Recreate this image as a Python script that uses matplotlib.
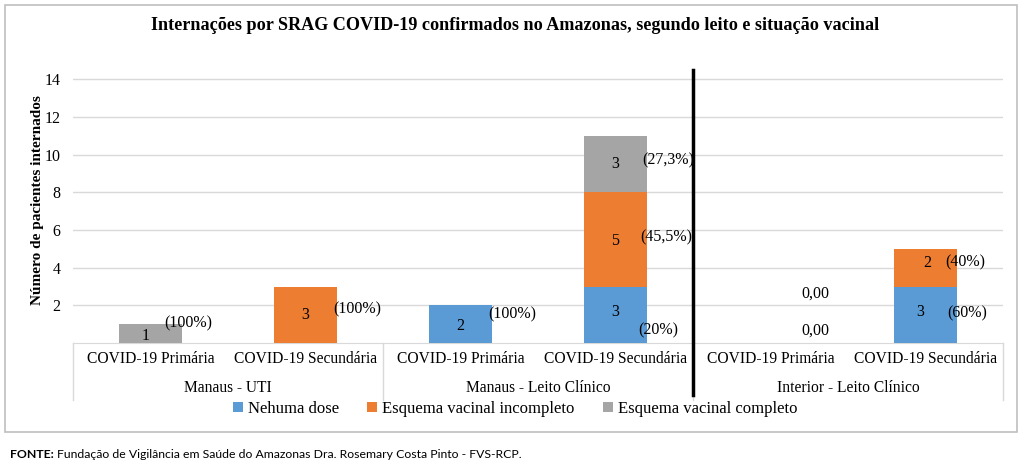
import matplotlib
matplotlib.use("Agg")
import matplotlib.pyplot as plt
from matplotlib.patches import Rectangle
from matplotlib.transforms import offset_copy
import numpy as np

plt.rcParams['font.family'] = ['Liberation Serif', 'DejaVu Serif']

title = "Internações por SRAG COVID-19 confirmados no Amazonas, segundo leito e situação vacinal"
ylabel = "Número de pacientes internados"
categories = ["COVID-19 Primária", "COVID-19 Secundária"] * 3
groups = ["Manaus - UTI", "Manaus - Leito Clínico", "Interior - Leito Clínico"]
series_names = ["Nehuma dose", "Esquema vacinal incompleto", "Esquema vacinal completo"]
nenhuma = [0, 0, 2, 3, 0, 3]
incompleto = [0, 3, 0, 5, 0, 2]
completo = [1, 0, 0, 3, 0, 0]
pct_nenhuma = ["", "", "(100%)", "(20%)", "", "(60%)"]
pct_incompleto = ["", "(100%)", "", "(45,5%)", "", "(40%)"]
pct_completo = ["(100%)", "", "", "(27,3%)", "", ""]
zero_labels = ["0,00", "0,00"]
yticks = [2, 4, 6, 8, 10, 12, 14]
source = "Fundação de Vigilância em Saúde do Amazonas Dra. Rosemary Costa Pinto - FVS-RCP."

# layout: pixel offsets (dx, dy) of percentage labels relative to bar right edge / segment middle
pct_offsets = [
    [None, None, (-4, 10), (-9, -16), None, (-10, 1)],
    [None, (-4, 5), None, (-7, 2), None, (-12, 5)],
    [(-18, 10), None, None, (-5, 4), None, None],
]
# layout: pixel offsets for value labels (dx, dy)
val_offsets = [
    [None, None, (0, -2), (0, 3), None, (-5, 3)],
    [None, (0, 0), None, (0, -2), None, (2, 5)],
    [(-5, -2), None, None, (0, 0), None, None],
]

colors = ["#5B9BD5", "#ED7D31", "#A5A5A5"]

fig = plt.figure(figsize=(10.24, 4.67), dpi=100)
fig.patches.append(Rectangle((5/1024, 1-432/467), 1012/1024, 427/467, transform=fig.transFigure,
                             fill=False, edgecolor="#BFBFBF", linewidth=1.2))
ax = fig.add_axes([73/1024, 1-343/467, 930/1024, 273/467])
x = np.arange(len(categories))
w = 0.41
data = [nenhuma, incompleto, completo]
pcts = [pct_nenhuma, pct_incompleto, pct_completo]
bottom = np.zeros(len(x))
px = 72 / 100  # points per pixel
for s, (vals, col, name) in enumerate(zip(data, colors, series_names)):
    vals = np.array(vals, dtype=float)
    ax.bar(x, vals, w, bottom=bottom, color=col, label=name, zorder=3)
    for i, v in enumerate(vals):
        if v > 0:
            mid = bottom[i] + v / 2
            dx, dy = val_offsets[s][i] or (0, 0)
            tr = offset_copy(ax.transData, fig=fig, x=dx*px, y=dy*px, units="points")
            ax.text(x[i], mid, f"{int(v)}", ha="center", va="center", fontsize=11.5,
                    zorder=4, transform=tr)
            if pcts[s][i]:
                dx, dy = pct_offsets[s][i]
                tr = offset_copy(ax.transData, fig=fig, x=dx*px, y=dy*px, units="points")
                ax.text(x[i] + w/2, mid, pcts[s][i], ha="left", va="center",
                        fontsize=11.5, zorder=4, transform=tr)
    bottom += vals

ax.text(4.2, 2.6, zero_labels[0], ha="left", va="center", fontsize=11.5)
ax.text(4.2, 0.68, zero_labels[1], ha="left", va="center", fontsize=11.5)

ax.set_xlim(-0.5, len(categories) - 0.5)
ax.set_ylim(0, 14.5)
ax.set_yticks(yticks)
ax.set_yticklabels([str(t) for t in yticks], fontsize=11.5)
ax.tick_params(axis="y", length=0, pad=9)
ax.set_xticks([])
ax.grid(axis="y", color="#D9D9D9", linewidth=1, zorder=0)
for sp in ["top", "right", "left"]:
    ax.spines[sp].set_visible(False)
ax.spines["bottom"].set_color("#D9D9D9")
ax.set_ylabel(ylabel, fontsize=11, fontweight="bold")
ax.yaxis.set_label_coords(-29/930, (343-200)/273)

trans = ax.get_xaxis_transform()
depth = -57 / 273
for xb in [-0.5, 1.5, 3.5, 5.5]:
    ax.plot([xb, xb], [0, depth], transform=trans, color="#D9D9D9", lw=1, clip_on=False)
for i, c in enumerate(categories):
    ax.text(x[i], -16/273, c, transform=trans, ha="center", va="center", fontsize=11.2)
for g, name in enumerate(groups):
    ax.text(2*g + 0.5, -45/273, name, transform=trans, ha="center", va="center", fontsize=11.2)

ax.plot([3.5, 3.5], [1.0, -52/273], transform=trans, color="black", lw=2.5, clip_on=False, zorder=5)

fig.text(0.503, 1-26/467, title, ha="center", va="center", fontsize=13.1, fontweight="bold")

fig.legend(loc="center", bbox_to_anchor=(515/1024, 1-409/467), ncol=3, frameon=False,
           fontsize=12, handlelength=0.6, handleheight=0.6, handletextpad=0.3,
           columnspacing=1.7)

t1 = fig.text(10/1024, 1-454/467, "FONTE:", fontsize=8.8, fontweight="bold", family="Lato",
              ha="left", va="center")
fig.canvas.draw()
bb = t1.get_window_extent()
fig.text((bb.x1 + 3) / 1024, 1-454/467, source, fontsize=8.8, family="Lato", ha="left", va="center")

fig.savefig("out.png", dpi=100)
